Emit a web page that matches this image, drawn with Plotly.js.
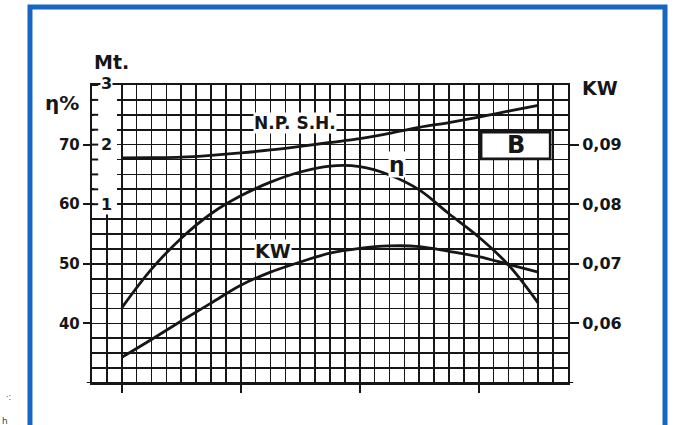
<!DOCTYPE html>
<html>
<head>
<meta charset="utf-8">
<script src="https://cdn.plot.ly/plotly-3.0.1.min.js"></script>
<style>
  html, body { margin: 0; padding: 0; background: #ffffff; }
  #chart { width: 678px; height: 425px; }
</style>
</head>
<body>
<div id="chart"></div>
<script>
// ---- data ----
const flowValues = [0, 0.25, 0.5, 0.75, 1.0, 1.25, 1.5, 1.75, 2.0, 2.25, 2.5, 2.75, 3.0, 3.25, 3.5];
const etaValues  = [42.6, 49.1, 54.3, 58.4, 61.4, 63.7, 65.4, 66.4, 66.3, 64.9, 62.4, 58.4, 54.5, 49.8, 43.4];
const kwValues   = [0.0543, 0.0573, 0.0604, 0.0634, 0.0664, 0.0686, 0.0703, 0.0718, 0.0726, 0.0730, 0.0729, 0.0721, 0.0712, 0.0699, 0.0686];
const npshValues = [1.775, 1.78, 1.79, 1.82, 1.86, 1.91, 1.97, 2.035, 2.10, 2.19, 2.29, 2.37, 2.46, 2.56, 2.66];

const xTickVals   = [0, 1, 2, 3];
const etaTickVals = [40, 50, 60, 70];
const etaTickText = ['40', '50', '60', '70'];
const kwTickVals  = [0.06, 0.07, 0.08, 0.09];
const kwTickText  = ['0,06', '0,07', '0,08', '0,09'];
const mtTickVals  = [1, 2, 3];
const mtTickText  = ['1', '2', '3'];
const mtMinorVals = [1, 1.25, 1.5, 1.75, 2, 2.25, 2.5, 2.75, 3];

const INK = '#161616';
const FONT = 'DejaVu Sans, Liberation Sans, Arial, sans-serif';
const BLUE = '#1767c2';

const lineStyle = {color: INK, width: 2.8, shape: 'spline', smoothing: 1};

const traces = [
  {x: flowValues, y: npshValues, yaxis: 'y2', type: 'scatter', mode: 'lines', line: lineStyle, name: 'N.P.S.H.', hoverinfo: 'skip'},
  {x: flowValues, y: etaValues,  yaxis: 'y',  type: 'scatter', mode: 'lines', line: lineStyle, name: 'η', hoverinfo: 'skip'},
  {x: flowValues, y: kwValues,   yaxis: 'y3', type: 'scatter', mode: 'lines', line: lineStyle, name: 'KW', hoverinfo: 'skip'}
];

const gridStyle = {showgrid: true, gridcolor: INK, gridwidth: 1.7};

const shapes = [];
// blank area left of the grid behind the Mt scale
shapes.push({type: 'rect', xref: 'x', yref: 'y', x0: -0.234, x1: -0.04, y0: 58.9, y1: 80.6,
  fillcolor: '#ffffff', line: {width: 0}, layer: 'above'});
// Mt scale ticks (inside)
mtMinorVals.forEach(v => {
  shapes.push({type: 'line', xref: 'paper', yref: 'y2', x0: 0, x1: 0.013, y0: v, y1: v,
    line: {color: INK, width: 2}, layer: 'above'});
});
// box around "B"
shapes.push({type: 'rect', xref: 'x', yref: 'y', x0: 3.02, x1: 3.60, y0: 67.6, y1: 72.1,
  fillcolor: '#ffffff', line: {color: INK, width: 2.6}, layer: 'above'});
// bottom base line slightly longer than the grid
shapes.push({type: 'line', xref: 'paper', yref: 'y', x0: -0.011, x1: 1.011, y0: 30, y1: 30,
  line: {color: INK, width: 2.2}});
// blue page frame
shapes.push({type: 'rect', xref: 'paper', yref: 'paper', x0: -0.1303, x1: 1.2038, y0: -0.2, y1: 1.2617,
  line: {color: BLUE, width: 5}, fillcolor: 'rgba(0,0,0,0)'});

function ann(text, xref, yref, x, y, size, extra) {
  return Object.assign({text: text, xref: xref, yref: yref, x: x, y: y, showarrow: false,
    xanchor: 'center', yanchor: 'middle',
    font: {family: FONT, size: size, color: INK}}, extra || {});
}

const annotations = [
  ann('<b>N.P. S.H.</b>', 'x', 'y', 1.454, 73.6, 17, {bgcolor: '#ffffff', borderpad: 0}),
  ann('<b>η</b>', 'x', 'y', 2.31, 66.6, 22, {bgcolor: '#ffffff', borderpad: 0}),
  ann('<b>KW</b>', 'x', 'y', 1.27, 52.1, 19, {bgcolor: '#ffffff', borderpad: 0}),
  ann('<b>B</b>', 'x', 'y', 3.31, 69.85, 24),
  ann('<b>Mt.</b>', 'paper', 'paper', 0.04, 1.077, 19),
  ann('<b>η%</b>', 'paper', 'paper', -0.063, 0.94, 20),
  ann('<b>KW</b>', 'paper', 'paper', 1.067, 0.99, 19),
  ann('·:', 'paper', 'paper', -0.176, -0.05, 8, {font: {family: FONT, size: 8, color: '#555'}}),
  ann('h', 'paper', 'paper', -0.183, -0.128, 9, {font: {family: FONT, size: 9, color: '#444'}})
];
mtTickVals.forEach((v, i) => {
  annotations.push(ann('<b>' + mtTickText[i] + '</b>', 'x', 'y2', -0.128, v, 16,
    {bgcolor: '#ffffff', borderpad: 0, yshift: v === 3 ? 2 : 0}));
});

const layout = {
  width: 678, height: 425,
  margin: {l: 92, r: 110, t: 85, b: 42, pad: 0},
  paper_bgcolor: '#ffffff', plot_bgcolor: '#ffffff',
  showlegend: false,
  font: {family: FONT, color: INK},
  xaxis: Object.assign({
    range: [-0.25, 3.75], zeroline: false,
    tickmode: 'array', tickvals: xTickVals, showticklabels: false,
    ticks: 'outside', ticklen: 8, tickwidth: 2, tickcolor: INK,
    showline: true, mirror: true, linecolor: INK, linewidth: 2.2,
    minor: {tick0: 0, dtick: 0.125, showgrid: true, gridcolor: INK, gridwidth: 1.7, ticks: ''}
  }, gridStyle),
  yaxis: Object.assign({
    range: [30, 80], zeroline: false,
    tickmode: 'array', tickvals: etaTickVals, ticktext: etaTickText,
    ticks: 'outside', ticklen: 7, tickwidth: 2, tickcolor: INK,
    tickfont: {family: FONT, size: 15, color: INK, weight: 'bold'},
    showline: true, mirror: true, linecolor: INK, linewidth: 2.2,
    minor: {tick0: 30, dtick: 2.5, showgrid: true, gridcolor: INK, gridwidth: 1.7, ticks: ''}
  }, gridStyle),
  yaxis2: {
    overlaying: 'y', anchor: 'x', range: [-2, 3], visible: false
  },
  yaxis3: {
    overlaying: 'y', anchor: 'x', side: 'right', range: [0.05, 0.10],
    showgrid: false, zeroline: false, showline: false,
    tickmode: 'array', tickvals: kwTickVals, ticktext: kwTickText,
    ticks: 'outside', ticklen: 10, tickwidth: 2, tickcolor: INK,
    tickfont: {family: FONT, size: 16, color: INK, weight: 'bold'}
  },
  shapes: shapes,
  annotations: annotations
};

Plotly.newPlot('chart', traces, layout, {staticPlot: true, displayModeBar: false});
</script>
</body>
</html>
